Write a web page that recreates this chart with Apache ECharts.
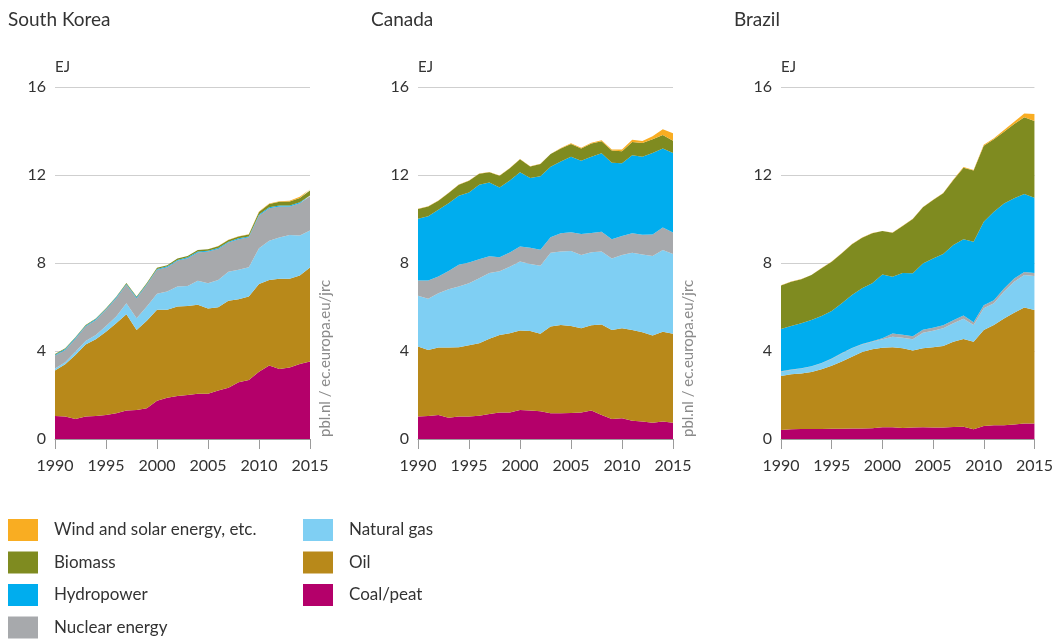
<!DOCTYPE html>
<html>
<head>
<meta charset="utf-8">
<script src="https://cdn.jsdelivr.net/npm/echarts@6/dist/echarts.min.js"></script>
<style>
html,body{margin:0;padding:0;background:#fff;}
#chart{width:1056px;height:639px;}
</style>
</head>
<body>
<div id="chart"></div>
<script>
// ---- Data (EJ) ----
const years = ['1990','1991','1992','1993','1994','1995','1996','1997','1998','1999','2000','2001','2002','2003','2004','2005','2006','2007','2008','2009','2010','2011','2012','2013','2014','2015'];
const yTicks = [0, 4, 8, 12, 16];
const countries = ['South Korea', 'Canada', 'Brazil'];
const sourceNames = ['Coal/peat', 'Oil', 'Natural gas', 'Nuclear energy', 'Hydropower', 'Biomass', 'Wind and solar energy, etc.'];

// South Korea
const koreaCoal    = [1.05,1.02,0.91,1.02,1.05,1.09,1.17,1.29,1.32,1.40,1.74,1.88,1.96,2.00,2.06,2.06,2.20,2.33,2.58,2.68,3.06,3.34,3.18,3.25,3.41,3.52];
const koreaOil     = [2.06,2.38,2.91,3.27,3.48,3.79,4.09,4.38,3.64,3.98,4.13,3.99,4.06,4.04,4.04,3.87,3.79,3.95,3.77,3.80,3.98,3.89,4.10,4.03,4.02,4.27];
const koreaGas     = [0.10,0.09,0.15,0.17,0.20,0.26,0.31,0.50,0.53,0.64,0.73,0.83,0.91,0.92,1.09,1.15,1.24,1.32,1.34,1.33,1.63,1.78,1.88,1.99,1.82,1.69];
const koreaNuclear = [0.58,0.56,0.59,0.65,0.68,0.73,0.83,0.84,0.91,0.99,1.09,1.11,1.17,1.26,1.29,1.44,1.41,1.33,1.39,1.36,1.49,1.48,1.41,1.30,1.47,1.55];
const koreaHydro   = [0.04,0.04,0.04,0.04,0.04,0.04,0.04,0.04,0.04,0.04,0.04,0.04,0.04,0.04,0.04,0.04,0.04,0.04,0.04,0.04,0.04,0.04,0.04,0.04,0.04,0.04];
const koreaBiomass = [0.03,0.03,0.03,0.03,0.03,0.03,0.03,0.04,0.04,0.04,0.05,0.05,0.06,0.06,0.07,0.07,0.08,0.08,0.09,0.09,0.12,0.15,0.17,0.18,0.20,0.22];
const koreaWind    = [0.00,0.00,0.00,0.00,0.00,0.00,0.00,0.00,0.00,0.00,0.00,0.00,0.00,0.00,0.00,0.00,0.01,0.01,0.01,0.01,0.02,0.03,0.03,0.04,0.05,0.06];

// Canada
const canadaCoal    = [1.02,1.05,1.09,0.97,1.02,1.02,1.06,1.14,1.21,1.21,1.32,1.30,1.26,1.17,1.17,1.18,1.20,1.29,1.09,0.91,0.94,0.83,0.79,0.74,0.79,0.74];
const canadaOil     = [3.18,3.00,3.07,3.19,3.15,3.24,3.29,3.42,3.52,3.60,3.61,3.61,3.52,3.94,4.01,3.96,3.83,3.88,4.12,4.04,4.09,4.13,4.06,3.96,4.08,4.04];
const canadaGas     = [2.31,2.33,2.47,2.65,2.76,2.82,2.96,2.98,2.90,3.02,3.14,3.05,3.09,3.36,3.34,3.41,3.33,3.32,3.31,3.26,3.33,3.51,3.54,3.62,3.72,3.63];
const canadaNuclear = [0.69,0.82,0.76,0.83,0.99,0.94,0.86,0.77,0.63,0.65,0.68,0.73,0.73,0.70,0.83,0.85,0.96,0.87,0.90,0.87,0.87,0.88,0.89,0.98,1.02,0.98];
const canadaHydro   = [2.81,2.92,3.03,3.08,3.14,3.19,3.39,3.35,3.17,3.27,3.38,3.17,3.34,3.21,3.26,3.43,3.33,3.47,3.57,3.48,3.30,3.55,3.55,3.70,3.60,3.61];
const canadaBiomass = [0.45,0.45,0.41,0.46,0.50,0.53,0.50,0.47,0.54,0.56,0.59,0.53,0.56,0.57,0.60,0.58,0.56,0.60,0.54,0.55,0.55,0.60,0.62,0.63,0.61,0.56];
const canadaWind    = [0.01,0.01,0.01,0.01,0.01,0.01,0.01,0.01,0.01,0.01,0.01,0.01,0.01,0.01,0.02,0.03,0.03,0.04,0.05,0.05,0.08,0.10,0.10,0.13,0.26,0.34];

// Brazil
const brazilCoal    = [0.41,0.44,0.45,0.45,0.46,0.47,0.47,0.48,0.48,0.49,0.53,0.53,0.50,0.52,0.53,0.52,0.52,0.55,0.56,0.44,0.59,0.62,0.63,0.66,0.71,0.71];
const brazilOil     = [2.45,2.50,2.53,2.60,2.71,2.86,3.05,3.26,3.47,3.59,3.62,3.64,3.62,3.50,3.59,3.65,3.71,3.87,3.99,3.98,4.36,4.56,4.85,5.08,5.27,5.15];
const brazilGas     = [0.20,0.20,0.22,0.24,0.27,0.31,0.37,0.38,0.35,0.34,0.38,0.48,0.48,0.51,0.71,0.75,0.80,0.84,0.92,0.76,0.99,0.99,1.22,1.41,1.47,1.55];
const brazilNuclear = [0.02,0.02,0.02,0.02,0.02,0.02,0.02,0.02,0.02,0.02,0.05,0.14,0.14,0.14,0.14,0.14,0.14,0.14,0.14,0.13,0.14,0.14,0.14,0.14,0.14,0.14];
const brazilHydro   = [1.92,1.98,2.04,2.10,2.13,2.16,2.26,2.41,2.53,2.64,2.90,2.59,2.81,2.86,3.01,3.15,3.24,3.42,3.47,3.66,3.80,4.02,3.87,3.65,3.55,3.42];
const brazilBiomass = [1.98,2.01,2.00,2.04,2.17,2.24,2.27,2.30,2.30,2.27,1.97,2.00,2.13,2.47,2.55,2.65,2.76,2.95,3.25,3.23,3.45,3.29,3.26,3.38,3.48,3.48];
const brazilWind    = [0.01,0.01,0.01,0.01,0.01,0.01,0.01,0.01,0.01,0.01,0.01,0.01,0.01,0.01,0.01,0.01,0.01,0.02,0.03,0.03,0.04,0.05,0.07,0.10,0.18,0.32];

const koreaData  = [koreaCoal, koreaOil, koreaGas, koreaNuclear, koreaHydro, koreaBiomass, koreaWind];
const canadaData = [canadaCoal, canadaOil, canadaGas, canadaNuclear, canadaHydro, canadaBiomass, canadaWind];
const brazilData = [brazilCoal, brazilOil, brazilGas, brazilNuclear, brazilHydro, brazilBiomass, brazilWind];
const allData = [koreaData, canadaData, brazilData];

// ---- Styling ----
const colors = ['#B4006A', '#B8891A', '#7FCFF3', '#A7A9AC', '#00ADEE', '#7F8B20', '#F9AD22'];
const FONT = 'Lato, "Noto Sans", sans-serif';
const gridLefts = [55, 418, 781];
const titleLefts = [8, 371, 734];
const gridTop = 87, gridW = 255, gridH = 352;
const sourceLabel = 'pbl.nl / ec.europa.eu/jrc';

const grids = [], xAxes = [], yAxes = [], series = [], titles = [], graphics = [];
countries.forEach((c, i) => {
  grids.push({left: gridLefts[i], top: gridTop, width: gridW, height: gridH});
  titles.push({text: c, left: titleLefts[i], top: 10, padding: 0,
    textStyle: {fontFamily: FONT, fontSize: 19, fontWeight: 'normal', color: '#333'}});
  xAxes.push({
    type: 'category', gridIndex: i, data: years, boundaryGap: false,
    axisLine: {lineStyle: {color: '#9b9b9b', width: 1}},
    axisTick: {interval: 4, length: 10, lineStyle: {color: '#9b9b9b'}},
    axisLabel: {interval: 4, margin: 19, fontFamily: FONT, fontSize: 16, color: '#333'},
    splitLine: {show: false}, z: 10
  });
  yAxes.push({
    type: 'value', gridIndex: i, min: yTicks[0], max: yTicks[yTicks.length - 1], interval: 4,
    name: 'EJ', nameLocation: 'end', nameGap: 20,
    nameTextStyle: {fontFamily: FONT, fontSize: 15, color: '#333', align: 'left', verticalAlign: 'middle'},
    axisLine: {show: false}, axisTick: {show: false},
    axisLabel: {margin: 9, fontFamily: FONT, fontSize: 16, color: '#333'},
    splitLine: {lineStyle: {color: '#cfcfcf', width: 1}}
  });
  allData[i].forEach((arr, k) => {
    series.push({
      name: sourceNames[k], type: 'line', xAxisIndex: i, yAxisIndex: i,
      stack: 'total' + i, data: arr, showSymbol: false, symbol: 'none',
      lineStyle: {width: 0}, areaStyle: {color: colors[k], opacity: 1},
      itemStyle: {color: colors[k]}, emphasis: {disabled: true}, silent: true
    });
  });
  if (i < 2) {
    graphics.push({type: 'text', x: gridLefts[i] + gridW + 15, y: 437, rotation: Math.PI / 2,
      style: {text: sourceLabel, fontFamily: FONT, fontSize: 15, fill: '#8a8a8a',
        textAlign: 'left', textVerticalAlign: 'middle'}});
  }
});

const legendCommon = {
  orient: 'vertical', icon: 'rect', itemWidth: 30, itemHeight: 22, itemGap: 10.5,
  selectedMode: false, padding: 0, height: 130,
  textStyle: {fontFamily: FONT, fontSize: 17, color: '#333', padding: [0, 0, 0, 11]}
};

const option = {
  animation: false,
  backgroundColor: '#fff',
  title: titles,
  grid: grids,
  xAxis: xAxes,
  yAxis: yAxes,
  legend: [
    Object.assign({left: 8, top: 519, data: sourceNames.slice(3).reverse()}, legendCommon),
    Object.assign({left: 303, top: 519, data: sourceNames.slice(0, 3).reverse()}, legendCommon)
  ],
  graphic: graphics,
  series: series
};

const chart = echarts.init(document.getElementById('chart'), null, {renderer: 'canvas'});
chart.setOption(option);
</script>
</body>
</html>
